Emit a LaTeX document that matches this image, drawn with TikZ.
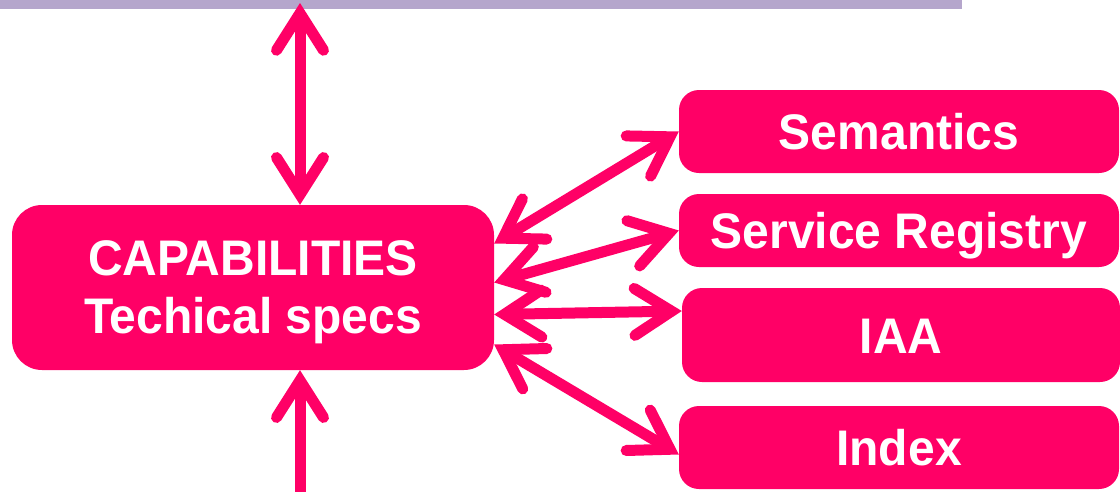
\documentclass[tikz,border=0pt]{standalone}
\usepackage{fontspec}
\setmainfont[FakeStretch=0.96]{Liberation Sans}
\usetikzlibrary{arrows.meta}
\definecolor{hotpink}{HTML}{FF0066}
\definecolor{lavender}{HTML}{B5A6CC}
\begin{document}
\begin{tikzpicture}[x=1pt,y=-1pt,
  box/.style={fill=hotpink, draw=none, rounded corners=20pt, text=white,
    font=\fontsize{50}{58}\selectfont\bfseries, inner sep=0pt},
  rbox/.style={box, minimum width=440pt, text height=36pt, text depth=0pt},
  conn/.style={draw=hotpink, line width=11pt,
    {Straight Barb[length=37pt,width=47pt,line cap=round,line join=miter]}-{Straight Barb[length=37pt,width=47pt,line cap=round,line join=miter]}},
  oneway/.style={draw=hotpink, line width=11pt,
    -{Straight Barb[length=37pt,width=47pt,line cap=round,line join=miter]}}]
\useasboundingbox (0,0) rectangle (1120,491);
\fill[lavender] (0,0) rectangle (962,9);
\node[box, rounded corners=30pt, minimum width=482pt, minimum height=165pt, align=center, text depth=0pt] (cap) at (253,287.5) {CAPABILITIES\\Techical specs};
\node[rbox, minimum height=83pt] (sem) at (899,131.5) {Semantics};
\node[rbox, minimum height=73pt] (sr) at (899,230.5) {Service Registry};
\node[rbox, minimum width=438pt, minimum height=94pt] (iaa) at (901,335) {IAA};
\node[rbox, minimum height=83pt] (idx) at (899,447.5) {Index};
\coordinate (topend) at (300,3);
\coordinate (botend) at (300,495);
\draw[conn] (topend) -- ([xshift=47pt]cap.north);
\draw[oneway] (botend) -- ([xshift=47pt]cap.south);
\draw[conn] ([yshift=44pt]cap.east) -- (sem.west);
\draw[conn] ([yshift=5pt]cap.east) -- (sr.west);
\draw[conn] ([yshift=-27pt]cap.east) -- ([yshift=24pt]iaa.west);
\draw[conn] ([yshift=-57pt]cap.east) -- ([yshift=-7pt]idx.west);
\end{tikzpicture}
\end{document}
